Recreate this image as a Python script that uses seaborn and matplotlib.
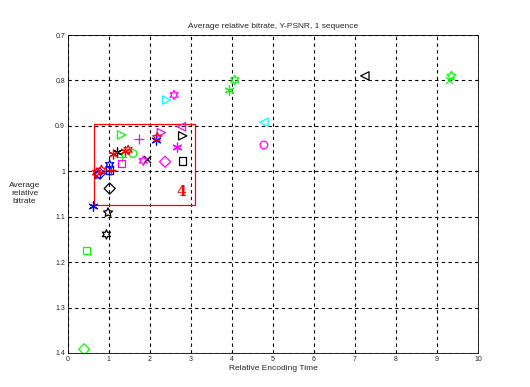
import numpy as np
import pandas as pd
import matplotlib
matplotlib.use("Agg")
import matplotlib.pyplot as plt
from matplotlib.patches import Rectangle
import seaborn as sns

# Data (relative encoding time vs. relative bitrate)
enc_time = [7.24, 9.35, 9.30, 4.07, 3.93, 2.41, 2.59, 4.78, 4.78,
            1.31, 1.73, 2.28, 2.77, 2.80, 2.16, 2.18, 2.67, 2.80, 2.37,
            1.84, 1.93, 1.20, 1.11, 1.47, 1.59, 1.31, 1.31, 1.02, 1.02,
            0.78, 0.82, 0.74, 1.02, 0.62, 0.98, 0.94, 0.46, 0.40,
            1.05, 1.40, 1.00, 0.70]
rel_bitrate = [0.790, 0.790, 0.800, 0.799, 0.821, 0.843, 0.832, 0.892, 0.942,
               0.920, 0.928, 0.915, 0.902, 0.922, 0.931, 0.925, 0.946, 0.977, 0.979,
               0.977, 0.972, 0.957, 0.961, 0.953, 0.961, 0.968, 0.983, 0.986, 0.997,
               1.005, 0.997, 1.008, 1.038, 1.077, 1.091, 1.139, 1.174, 1.392,
               0.998, 0.955, 1.000, 1.003]
# MATLAB style codes for each point: colour letter + marker letter
style_codes = ['k<', 'gp', 'gx', 'gh', 'g*', 'c>', 'mh', 'c<', 'mo',
               'g>', 'm+', 'm>', 'm<', 'k>', 'b*', 'rp', 'm*', 'ks', 'md',
               'mh', 'kx', 'k*', 'r*', 'rh', 'go', 'g+', 'ms', 'bh', 'bs',
               'bd', 'rp', 'bp', 'kd', 'b*', 'kp', 'kh', 'gs', 'gd',
               'r+', 'r*', 'b+', 'rh']

box_x = [0.63, 3.1]
box_y = [0.896, 1.074]
box_label = '4'

colour_map = {'k': 'black', 'g': '#00ff00', 'c': '#00ffff', 'm': '#ff00ff',
              'b': '#0000ff', 'r': '#ff0000'}
marker_map = {'<': '<', '>': '>', 'o': 'o', 's': 's', 'd': 'D',
              'p': (5, 1, 0), 'h': (6, 1, 0), '*': (6, 2, 0),
              'x': 'x', '+': '+'}
line_markers = {'*', 'x', '+'}
marker_size = {'<': 36, '>': 36, 'o': 30, 's': 28, 'd': 32,
               'p': 45, 'h': 45, '*': 42, 'x': 26, '+': 42}

df = pd.DataFrame({'time': enc_time, 'bitrate': rel_bitrate, 'code': style_codes})
df['colour'] = df['code'].str[0]
df['marker'] = df['code'].str[1]

sns.set_style('white')
plt.rcParams['font.family'] = ['Liberation Sans', 'DejaVu Sans']

fig = plt.figure(figsize=(5.3, 3.87), dpi=100)
ax = fig.add_axes([0.128, 0.088, 0.774, 0.8215])

for (c, m), grp in df.groupby(['colour', 'marker']):
    if m in line_markers:
        sns.scatterplot(data=grp, x='time', y='bitrate', marker=marker_map[m],
                        color=colour_map[c], s=marker_size[m], linewidth=0.9,
                        ax=ax, zorder=3)
    else:
        sns.scatterplot(data=grp, x='time', y='bitrate', marker=marker_map[m],
                        color=colour_map[c], facecolor='none',
                        edgecolor=colour_map[c], s=marker_size[m],
                        linewidth=0.9, ax=ax, zorder=3)

ax.add_patch(Rectangle((box_x[0], box_y[0]), box_x[1] - box_x[0],
                       box_y[1] - box_y[0], fill=False, edgecolor='red',
                       linewidth=0.9, zorder=2))
ax.text(2.76, 1.045, box_label, color='red', fontsize=10, fontweight='bold',
        family='DejaVu Serif', ha='center', va='center')

ax.set_xlim(0, 10)
ax.set_ylim(1.4, 0.7)
xt = np.arange(0, 11)
yt = np.round(np.arange(0.7, 1.41, 0.1), 1)
ax.set_xticks(xt)
ax.set_xticklabels([str(v) for v in xt])
ax.set_yticks(yt)
ax.set_yticklabels(['%g' % v for v in yt])
ax.tick_params(labelsize=5, length=3, direction='in', width=0.5, pad=2)
ax.grid(True, color='black', linestyle=(0, (3, 3)), linewidth=0.8)
for sp in ax.spines.values():
    sp.set_color('black')
    sp.set_linewidth(0.6)

ax.set_title('Average relative bitrate, Y-PSNR, 1 sequence', fontsize=6, pad=5)
ax.set_xlabel('Relative Encoding Time', fontsize=6, labelpad=2)
ax.set_ylabel('Average\nrelative\nbitrate', fontsize=6, rotation=0,
              ha='center', va='center', labelpad=22)

fig.savefig('out.png', dpi=100)
